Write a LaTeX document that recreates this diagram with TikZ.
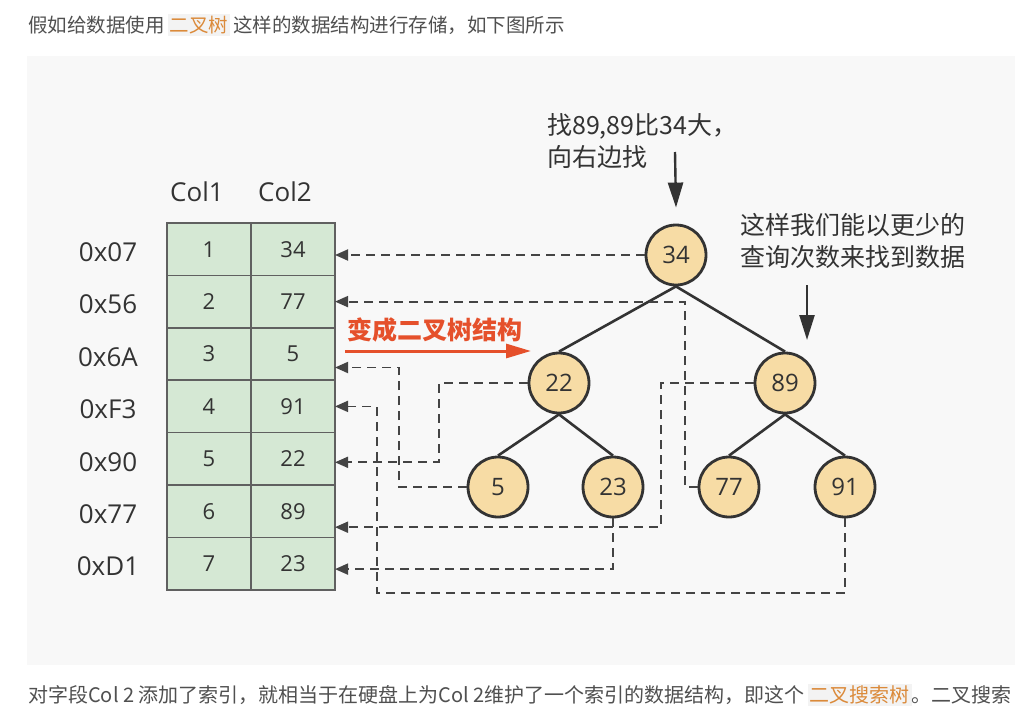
\documentclass[tikz,border=0pt]{standalone}
\usepackage{fontspec}
\setmainfont{Open Sans}
\newfontfamily\cjk{Noto Sans CJK SC}
\usetikzlibrary{arrows.meta,positioning}

\definecolor{ink}{HTML}{333333}
\definecolor{prose}{HTML}{505050}
\definecolor{panelbg}{HTML}{F8F8F8}
\definecolor{cellfill}{HTML}{D5E8D4}
\definecolor{cellline}{HTML}{606060}
\definecolor{keyfill}{HTML}{F7DCA5}
\definecolor{linkgray}{HTML}{444444}
\definecolor{convred}{HTML}{E5502B}
\definecolor{codeorange}{HTML}{DB8A3A}
\definecolor{codebg}{HTML}{F3F3F3}

\begin{document}
\begin{tikzpicture}[x=1pt,y=-1pt,
 cell/.style = {rectangle, draw=cellline, fill=cellfill, line width=1.6pt,
                minimum width=84pt, minimum height=52.4pt,
                inner sep=0pt, outer sep=0pt, text=ink,
                font=\fontsize{22}{22}\selectfont},
 addr/.style = {text=ink, inner sep=0pt, font=\fontsize{26}{26}\selectfont},
  key/.style = {circle, draw=ink, fill=keyfill, line width=2.8pt,
                minimum size=60pt, inner sep=0pt, text=ink,
                font=\fontsize{24}{24}\selectfont},
 edge/.style = {draw=ink, line width=2.6pt},
 link/.style = {draw=linkgray, line width=1.8pt, dash pattern=on 9pt off 6pt,
                -{Triangle[length=13pt,width=11pt]}},% dashed pointer back to the row
 note/.style = {anchor=west, align=left, inner sep=0pt, text=ink,
                font=\cjk\fontsize{25}{32.5}\selectfont},
 down/.style = {draw=ink, line width=2.4pt, -{Triangle[length=25pt,width=15pt]}},
 prose/.style = {anchor=west, inner sep=0pt, text=prose,
                font=\cjk\fontsize{19.5}{19.5}\selectfont},
                        ]
\useasboundingbox (0,0) rectangle (1031,712);
\fill[white] (0,0) rectangle (1031,712);
\fill[panelbg] (27,56) rectangle (1015,665);

% page text
\node[prose] (intro) at (28,25) {假如给数据使用\hspace{3pt}{\setlength\fboxsep{2pt}\colorbox{codebg}{\textcolor{codeorange}{二叉树}}}\hspace{3pt}这样的数据结构进行存储，如下图所示};
\node[prose, font=\cjk\fontsize{20}{20}\selectfont] (outro) at (28,695) {对字段Col 2 添加了索引，就相当于在硬盘上为Col 2维护了一个索引的数据结构，即这个\hspace{3pt}{\setlength\fboxsep{2pt}\colorbox{codebg}{\textcolor{codeorange}{二叉搜索树}}}。二叉搜索};

% table
\foreach \a/\u/\v [count=\i] in {0x07/1/34,0x56/2/77,0x6A/3/5,0xF3/4/91,0x90/5/22,0x77/6/89,0xD1/7/23}
{
    \node[cell] (l\i) at (209,{223+52.4*(\i-0.5)}) {\u};
    \node[cell, right=0pt of l\i] (r\i) {\v};
    \node[addr] (h\i) at (108,{226+52.4*(\i-0.5)}) {\a};
}
\node[addr] (col1) at (197,192) {Col1};
\node[addr] (col2) at (285,192) {Col2};

% tree
\node[key] (k34) at (676,255) {34};
\node[key] (k22) at (559,383) {22};
\node[key] (k89) at (785,383) {89};
\node[key] (k5)  at (498,487) {5};
\node[key] (k23) at (613,487) {23};
\node[key] (k77) at (729,487) {77};
\node[key] (k91) at (845,487) {91};
\foreach \p/\c in {34/22,34/89,22/5,22/23,89/77,89/91}
    \draw[edge] (k\p.south) -- (k\c.north);

% pointers
\draw[link] (k34.west) -- (k34.west -| r1.east);
\draw[link] (k77.west) -- ++(-13,0) |- (r2.east);
\draw[link] (k5.west) -- ++(-68,0) |- ([yshift=-13.5pt]r3.east);
\draw[link] (k91.south) |- (377,593) |- (r4.east);
\draw[link] (k22.west) -- ++(-89,0) |- ([yshift=-3.5pt]r5.east);
\draw[link] (k89.west) -- ++(-93,0) |- ([yshift=-16pt]r6.east);
\draw[link] (k23.south) |- ([yshift=-5.5pt]r7.east);

% red conversion arrow
\node[anchor=west, inner sep=0pt, text=convred,
      font=\cjk\bfseries\fontsize{25}{25}\selectfont] (conv) at (347,330) {变成二叉树结构};
\coordinate (convs) at (345,351);
\coordinate (conve) at (531,351);
\draw[draw=convred, line width=3pt, -{Triangle[length=25pt,width=14pt]}] (convs) -- (conve);

% notes
\node[note] (hint1) at (547,141) {找89,89比34大，\\向右边找};
\coordinate (hint1s) at (675,152);
\draw[down] (hint1s) -- ([yshift=16pt]k34.north);
\node[note] (hint2) at (740,241) {这样我们能以更少的\\查询次数来找到数据};
\coordinate (hint2s) at (807,285);
\coordinate (hint2e) at (807,340);
\draw[down] (hint2s) -- (hint2e);
\end{tikzpicture}
\end{document}
